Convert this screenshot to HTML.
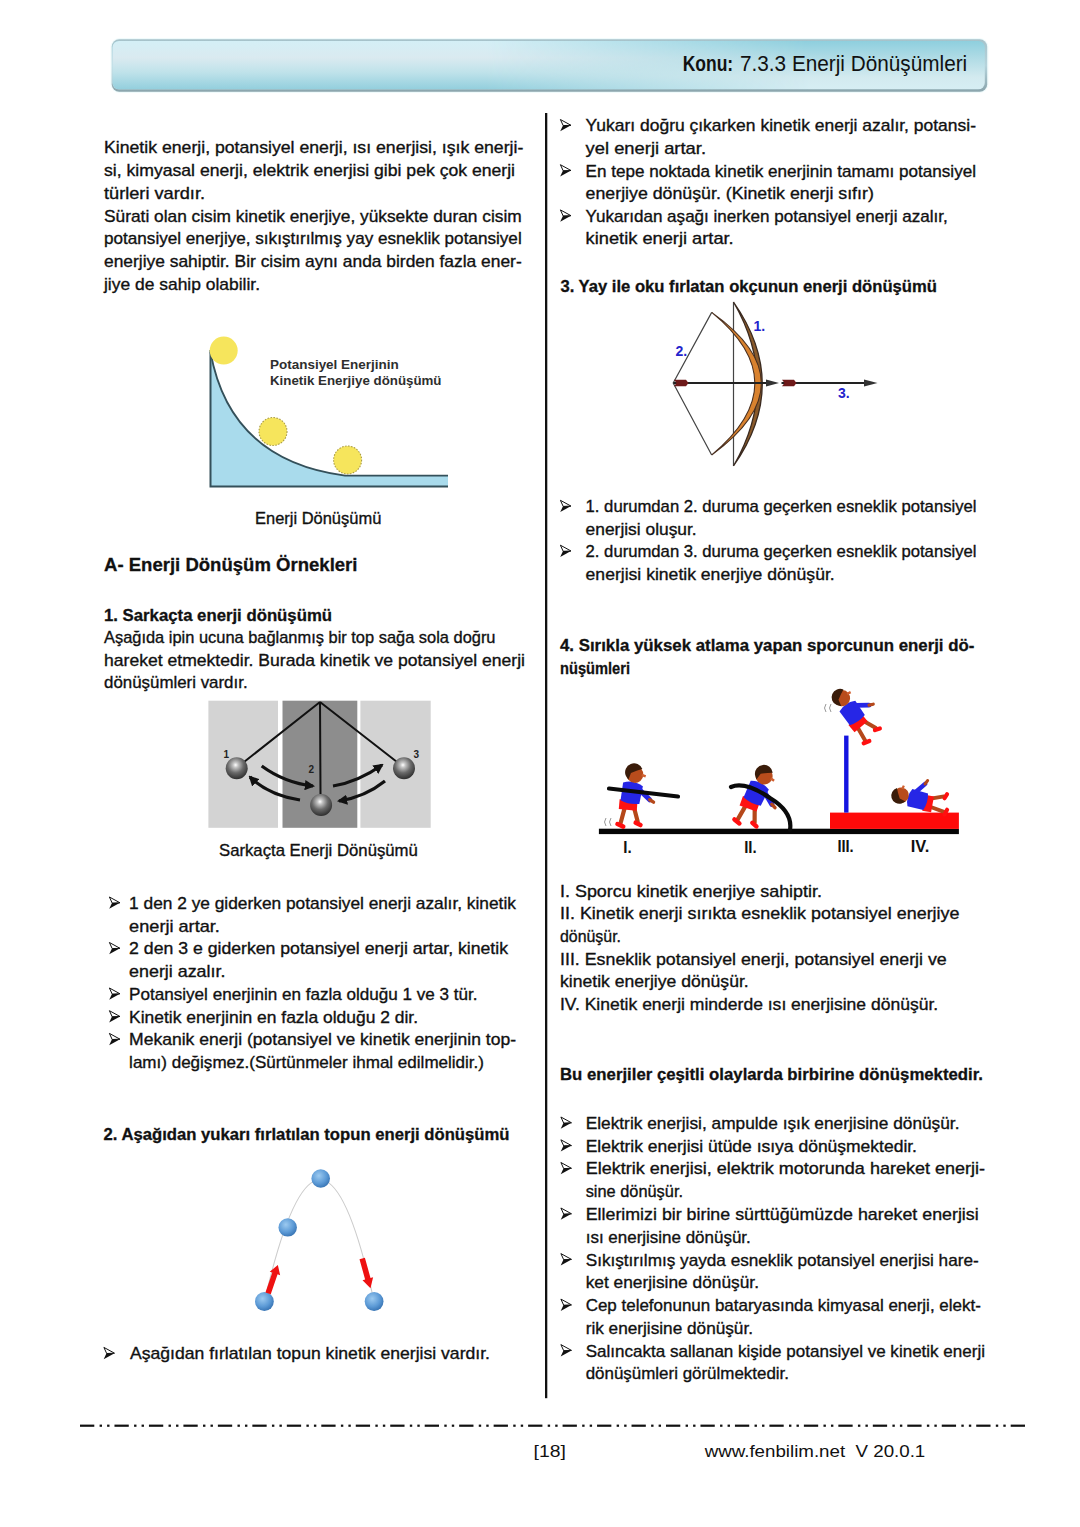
<!DOCTYPE html>
<html><head><meta charset="utf-8"><title>Enerji Dönüşümleri</title>
<style>
html,body{margin:0;padding:0;background:#fff;}
body{width:1080px;height:1527px;position:relative;overflow:hidden;font-family:"Liberation Sans",sans-serif;}
</style></head>
<body>
<svg width="1080" height="1527" viewBox="0 0 1080 1527" style="position:absolute;left:0;top:0;font-family:'Liberation Sans',sans-serif">

<defs>
 <linearGradient id="hg1" x1="0" y1="0" x2="0" y2="1">
  <stop offset="0" stop-color="#d4eff6"/>
  <stop offset="0.35" stop-color="#daeaf0"/>
  <stop offset="0.65" stop-color="#bfe2ea"/>
  <stop offset="1" stop-color="#93cfdd"/>
 </linearGradient>
 <linearGradient id="hg2" x1="0" y1="0" x2="0" y2="1">
  <stop offset="0" stop-color="#8ecfde"/>
  <stop offset="0.4" stop-color="#b4dde6"/>
  <stop offset="0.75" stop-color="#d3eaef"/>
  <stop offset="1" stop-color="#d6eef4"/>
 </linearGradient>
 <linearGradient id="hmask" x1="0" y1="0" x2="1" y2="0">
  <stop offset="0" stop-color="#fff" stop-opacity="1"/>
  <stop offset="0.45" stop-color="#fff" stop-opacity="1"/>
  <stop offset="0.75" stop-color="#fff" stop-opacity="0"/>
  <stop offset="1" stop-color="#fff" stop-opacity="0"/>
 </linearGradient>
 <linearGradient id="hbord" x1="0" y1="0" x2="0" y2="1">
  <stop offset="0" stop-color="#a6c2ca"/>
  <stop offset="0.5" stop-color="#b6d4dc"/>
  <stop offset="1" stop-color="#8aa4ac"/>
 </linearGradient>
 <mask id="hm"><rect x="0" y="0" width="1080" height="120" fill="url(#hmask)"/></mask>
</defs>
<g>
 <rect x="110.5" y="38" width="878" height="55" rx="9" fill="#e6f8fa" opacity="0.6"/>
 <rect x="111.7" y="39.2" width="875.5" height="52.5" rx="7.5" fill="url(#hbord)"/>
 <rect x="112.5" y="40.9" width="872.3" height="48.4" rx="6.5" fill="url(#hg2)"/>
 <rect x="112.5" y="40.9" width="872.3" height="48.4" rx="6.5" fill="url(#hg1)" mask="url(#hm)"/>
 <text x="682.7" y="71.4" textLength="50.5" lengthAdjust="spacingAndGlyphs" style="font-size:22px;font-weight:bold;fill:#111">Konu:</text>
 <text x="740" y="71.4" textLength="227.2" lengthAdjust="spacingAndGlyphs" style="font-size:22px;fill:#111">7.3.3 Enerji Dönüşümleri</text>
</g>
<rect x="545" y="113" width="2.3" height="1285.2" fill="#111"/>

<g>
 <path d="M210.5 352 C 220 405 250 463 345 475.6 L 448 475.6 L 448 486 L 210.5 486 Z" fill="#a9dbec"/>
 <path d="M210.5 352 C 220 405 250 463 345 475.6 L 448 475.6" fill="none" stroke="#34505a" stroke-width="1.8"/>
 <path d="M210.5 350 L 210.5 486.5 L 448 486.5" fill="none" stroke="#34505a" stroke-width="2"/>
 <circle cx="223.7" cy="350.6" r="14" fill="#f6e55c"/>
 <circle cx="273" cy="431.5" r="14" fill="#f6e55c" stroke="#a89a48" stroke-width="1.1" stroke-dasharray="1.5 1.5"/>
 <circle cx="347.6" cy="460" r="14" fill="#f6e55c" stroke="#a89a48" stroke-width="1.1" stroke-dasharray="1.5 1.5"/>
 <text x="270" y="369.3" textLength="128.7" lengthAdjust="spacingAndGlyphs" style="font-size:13px;font-weight:bold;fill:#2e2e2e">Potansiyel Enerjinin</text>
 <text x="270" y="384.8" textLength="171.5" lengthAdjust="spacingAndGlyphs" style="font-size:13px;font-weight:bold;fill:#2e2e2e">Kinetik Enerjiye dönüşümü</text>
</g>

<defs>
 <radialGradient id="pball" cx="0.45" cy="0.35" r="0.65">
  <stop offset="0" stop-color="#ffffff"/>
  <stop offset="0.18" stop-color="#c4c4c4"/>
  <stop offset="0.55" stop-color="#6a6a6a"/>
  <stop offset="1" stop-color="#2e2e2e"/>
 </radialGradient>
 <marker id="ah" viewBox="0 0 10 10" refX="8" refY="5" markerWidth="3.2" markerHeight="3.2" orient="auto">
  <path d="M0 0 L10 5 L0 10 Z" fill="#111"/>
 </marker>
</defs>
<g>
 <rect x="208.4" y="700.7" width="69.6" height="127.1" fill="#d3d3d3"/>
 <rect x="282.5" y="700.7" width="74.8" height="127.1" fill="#8d8d8d"/>
 <rect x="360.4" y="700.7" width="70.3" height="127.1" fill="#d3d3d3"/>
 <path d="M320 702 L 244 762 M320 702 L 320.5 794 M320 702 L 397 762" stroke="#111" stroke-width="2" fill="none"/>
 <path d="M261.7 766 Q 285 783 313 786" stroke="#111" stroke-width="3.2" fill="none" marker-end="url(#ah)"/>
 <path d="M300 800 Q 268 795 250 777" stroke="#111" stroke-width="3.2" fill="none" marker-end="url(#ah)"/>
 <path d="M333 786 Q 358 782 382 765" stroke="#111" stroke-width="3.2" fill="none" marker-end="url(#ah)"/>
 <path d="M385 781 Q 365 797 339 801" stroke="#111" stroke-width="3.2" fill="none" marker-end="url(#ah)"/>
 <circle cx="236.7" cy="768.3" r="11" fill="url(#pball)"/>
 <circle cx="321.1" cy="805" r="11" fill="url(#pball)"/>
 <circle cx="404" cy="768.3" r="11" fill="url(#pball)"/>
 <text x="223.5" y="757.5" style="font-size:10px;font-weight:bold;fill:#222">1</text>
 <text x="308.5" y="772.5" style="font-size:10px;font-weight:bold;fill:#222">2</text>
 <text x="413.5" y="757.5" style="font-size:10px;font-weight:bold;fill:#222">3</text>
</g>

<g>
 <path d="M733.5 302 L733.5 466" stroke="#444" stroke-width="1.2" fill="none"/>
 <path d="M711.7 312.4 L673.2 383 L711.7 455" stroke="#444" stroke-width="1.2" fill="none"/>
 <path d="M733.5 302 Q 791 384 733.5 466 Q 781 384 733.5 302 Z" fill="#8a5a2a" stroke="#3a2a20" stroke-width="1.3"/>
 <path d="M711.7 312.4 Q 811 383 711.7 455 Q 798 383 711.7 312.4 Z" fill="#d9822e" stroke="#4a3020" stroke-width="1.1"/>
 <path d="M673.5 383 L 768 383" stroke="#222" stroke-width="2" fill="none"/>
 <path d="M766 379.5 L 779 383 L 766 386.5 Z" fill="#333"/>
 <path d="M674 379.8 L 686 379.8 L 688.5 383 L 686 386.2 L 674 386.2 L 676.5 383 Z" fill="#6e1a1a"/>
 <path d="M781.5 383 L 866 383" stroke="#222" stroke-width="2" fill="none"/>
 <path d="M864 379.5 L 877.5 383 L 864 386.5 Z" fill="#333"/>
 <path d="M782 379.8 L 794 379.8 L 796.5 383 L 794 386.2 L 782 386.2 L 784.5 383 Z" fill="#6e1a1a"/>
 <text x="753.5" y="331" style="font-size:14px;font-weight:bold;fill:#2424cc">1.</text>
 <text x="675.5" y="356" style="font-size:14px;font-weight:bold;fill:#2424cc">2.</text>
 <text x="838" y="398" style="font-size:14px;font-weight:bold;fill:#2424cc">3.</text>
</g>

<defs>
 <radialGradient id="bball" cx="0.4" cy="0.35" r="0.7">
  <stop offset="0" stop-color="#9ccaf0"/>
  <stop offset="0.6" stop-color="#5c9ad6"/>
  <stop offset="1" stop-color="#3470b0"/>
 </radialGradient>
</defs>
<g>
 <path d="M264.4 1301.5 Q 320.7 1058 374.1 1301.5" stroke="#cccccc" stroke-width="1.1" fill="none"/>
 <circle cx="320.7" cy="1178.5" r="9.3" fill="url(#bball)"/>
 <circle cx="287.7" cy="1227.4" r="9.2" fill="url(#bball)"/>
 <circle cx="264.4" cy="1301.5" r="9.4" fill="url(#bball)"/>
 <circle cx="374.1" cy="1301.5" r="9.4" fill="url(#bball)"/>
 <g transform="translate(268.1 1293.3) rotate(-71)"><path d="M0 -2.8 L21 -2.8 L21 -5.5 L30 0 L21 5.5 L21 2.8 L0 2.8 Z" fill="#ee1111"/></g>
 <g transform="translate(362.2 1258.5) rotate(74.5)"><path d="M0 -2.8 L21 -2.8 L21 -5.5 L31 0 L21 5.5 L21 2.8 L0 2.8 Z" fill="#ee1111"/></g>
</g>

<g>
 <rect x="598.9" y="828.7" width="360" height="5.4" fill="#050505"/>
 <rect x="830" y="812.6" width="128.9" height="16.3" fill="#ff0a0a"/>
 <rect x="844.1" y="735.6" width="4.4" height="77" fill="#1414e0"/>
 <g transform="translate(629.0 807.0) rotate(5.0) scale(1.00)">
 <path d="M-4 0 L-7 17 M5 0 L10 14" stroke="#b5481a" stroke-width="4.2" stroke-linecap="round" fill="none"/>
 <path d="M-10 18 L-4 20 M8 15 L13 17" stroke="#ff1010" stroke-width="4.5" stroke-linecap="round"/>
 <rect x="-10" y="-7" width="18" height="10" fill="#ff1212"/>
 <path d="M-8 -24 Q 2 -28 12 -22 L 10 -4 Q 0 -2 -9 -6 Z" fill="#2626e6"/>
 <path d="M9 -18 L 20 -9" stroke="#2626e6" stroke-width="5" stroke-linecap="round"/>
 <path d="M20 -9 L 24 -7" stroke="#b5481a" stroke-width="3.5" stroke-linecap="round"/>
 <circle cx="3" cy="-33" r="8.5" fill="#b84c1c"/>
 <path d="M-6 -31 A8.5 8.5 0 0 1 10 -39 L 5 -37 L -1 -34 L -3 -27 Z" fill="#3a1c0a"/>
 <path d="M10 -33 L 14 -32" stroke="#d06030" stroke-width="2.5"/>
</g>
 <path d="M609 788.5 L 678 796.5" stroke="#0a0a0a" stroke-width="4.2" stroke-linecap="round"/>
 <g transform="translate(750.0 806.0) rotate(20.0) scale(1.00)">
 <path d="M-4 0 L-7 17 M5 0 L10 14" stroke="#b5481a" stroke-width="4.2" stroke-linecap="round" fill="none"/>
 <path d="M-10 18 L-4 20 M8 15 L13 17" stroke="#ff1010" stroke-width="4.5" stroke-linecap="round"/>
 <rect x="-10" y="-7" width="18" height="10" fill="#ff1212"/>
 <path d="M-8 -24 Q 2 -28 12 -22 L 10 -4 Q 0 -2 -9 -6 Z" fill="#2626e6"/>
 <path d="M9 -18 L 20 -9" stroke="#2626e6" stroke-width="5" stroke-linecap="round"/>
 <path d="M20 -9 L 24 -7" stroke="#b5481a" stroke-width="3.5" stroke-linecap="round"/>
 <circle cx="3" cy="-33" r="8.5" fill="#b84c1c"/>
 <path d="M-6 -31 A8.5 8.5 0 0 1 10 -39 L 5 -37 L -1 -34 L -3 -27 Z" fill="#3a1c0a"/>
 <path d="M10 -33 L 14 -32" stroke="#d06030" stroke-width="2.5"/>
</g>
 <path d="M731 787 Q 745 781 770 798 Q 793 812 790 830" stroke="#0a0a0a" stroke-width="4.2" stroke-linecap="round" fill="none"/>
 <g transform="translate(860.0 724.0) rotate(-40.0) scale(0.95)">
 <path d="M-4 0 L-7 17 M5 0 L10 14" stroke="#b5481a" stroke-width="4.2" stroke-linecap="round" fill="none"/>
 <path d="M-10 18 L-4 20 M8 15 L13 17" stroke="#ff1010" stroke-width="4.5" stroke-linecap="round"/>
 <rect x="-10" y="-7" width="18" height="10" fill="#ff1212"/>
 <path d="M-8 -24 Q 2 -28 12 -22 L 10 -4 Q 0 -2 -9 -6 Z" fill="#2626e6"/>
 <path d="M9 -18 L 20 -9" stroke="#2626e6" stroke-width="5" stroke-linecap="round"/>
 <path d="M20 -9 L 24 -7" stroke="#b5481a" stroke-width="3.5" stroke-linecap="round"/>
 <circle cx="3" cy="-33" r="8.5" fill="#b84c1c"/>
 <path d="M-6 -31 A8.5 8.5 0 0 1 10 -39 L 5 -37 L -1 -34 L -3 -27 Z" fill="#3a1c0a"/>
 <path d="M10 -33 L 14 -32" stroke="#d06030" stroke-width="2.5"/>
</g>
 <g transform="translate(930.0 803.0) rotate(-80.0) scale(0.90)">
 <path d="M-4 0 L-7 17 M5 0 L10 14" stroke="#b5481a" stroke-width="4.2" stroke-linecap="round" fill="none"/>
 <path d="M-10 18 L-4 20 M8 15 L13 17" stroke="#ff1010" stroke-width="4.5" stroke-linecap="round"/>
 <rect x="-10" y="-7" width="18" height="10" fill="#ff1212"/>
 <path d="M-8 -24 Q 2 -28 12 -22 L 10 -4 Q 0 -2 -9 -6 Z" fill="#2626e6"/>
 <path d="M9 -18 L 20 -9" stroke="#2626e6" stroke-width="5" stroke-linecap="round"/>
 <path d="M20 -9 L 24 -7" stroke="#b5481a" stroke-width="3.5" stroke-linecap="round"/>
 <circle cx="3" cy="-33" r="8.5" fill="#b84c1c"/>
 <path d="M-6 -31 A8.5 8.5 0 0 1 10 -39 L 5 -37 L -1 -34 L -3 -27 Z" fill="#3a1c0a"/>
 <path d="M10 -33 L 14 -32" stroke="#d06030" stroke-width="2.5"/>
</g>
 <path d="M606 818 Q 603 822 606 826 M611 818 Q 608 822 611 826" stroke="#999" stroke-width="1" fill="none"/>
 <path d="M826 704 Q 823 708 826 712 M831 704 Q 828 708 831 712" stroke="#999" stroke-width="1" fill="none"/>
 <text x="623.3" y="853.3" textLength="8.4" lengthAdjust="spacingAndGlyphs" style="font-size:16px;font-weight:bold;fill:#111">I.</text>
 <text x="744.2" y="853.3" textLength="12.5" lengthAdjust="spacingAndGlyphs" style="font-size:16px;font-weight:bold;fill:#111">II.</text>
 <text x="837.4" y="851.5" textLength="16.3" lengthAdjust="spacingAndGlyphs" style="font-size:16px;font-weight:bold;fill:#111">III.</text>
 <text x="910.7" y="851.5" textLength="18.6" lengthAdjust="spacingAndGlyphs" style="font-size:16px;font-weight:bold;fill:#111">IV.</text>
</g>
<g fill="#111">
<text x="104.0" y="153.3" textLength="419.3" lengthAdjust="spacingAndGlyphs" style="font-size:17px;stroke:#111;stroke-width:0.35px">Kinetik enerji, potansiyel enerji, ısı enerjisi, ışık enerji-</text>
<text x="104.0" y="176.1" textLength="411.0" lengthAdjust="spacingAndGlyphs" style="font-size:17px;stroke:#111;stroke-width:0.35px">si, kimyasal enerji, elektrik enerjisi gibi pek çok enerji</text>
<text x="104.0" y="198.8" textLength="101.0" lengthAdjust="spacingAndGlyphs" style="font-size:17px;stroke:#111;stroke-width:0.35px">türleri vardır.</text>
<text x="104.0" y="221.6" textLength="417.7" lengthAdjust="spacingAndGlyphs" style="font-size:17px;stroke:#111;stroke-width:0.35px">Sürati olan cisim kinetik enerjiye, yüksekte duran cisim</text>
<text x="104.0" y="244.3" textLength="417.7" lengthAdjust="spacingAndGlyphs" style="font-size:17px;stroke:#111;stroke-width:0.35px">potansiyel enerjiye, sıkıştırılmış yay esneklik potansiyel</text>
<text x="104.0" y="267.1" textLength="417.7" lengthAdjust="spacingAndGlyphs" style="font-size:17px;stroke:#111;stroke-width:0.35px">enerjiye sahiptir. Bir cisim aynı anda birden fazla ener-</text>
<text x="104.0" y="289.8" textLength="156.0" lengthAdjust="spacingAndGlyphs" style="font-size:17px;stroke:#111;stroke-width:0.35px">jiye de sahip olabilir.</text>
<text x="255.0" y="523.5" textLength="126.3" lengthAdjust="spacingAndGlyphs" style="font-size:17px;stroke:#111;stroke-width:0.35px">Enerji Dönüşümü</text>
<text x="104.0" y="571.3" textLength="253.5" lengthAdjust="spacingAndGlyphs" style="font-size:19px;font-weight:bold;stroke:#111;stroke-width:0.3px">A- Enerji Dönüşüm Örnekleri</text>
<text x="104.0" y="620.8" textLength="228.0" lengthAdjust="spacingAndGlyphs" style="font-size:17px;font-weight:bold;stroke:#111;stroke-width:0.3px">1. Sarkaçta enerji dönüşümü</text>
<text x="104.0" y="643.3" textLength="391.5" lengthAdjust="spacingAndGlyphs" style="font-size:17px;stroke:#111;stroke-width:0.35px">Aşağıda ipin ucuna bağlanmış bir top sağa sola doğru</text>
<text x="104.0" y="665.8" textLength="421.0" lengthAdjust="spacingAndGlyphs" style="font-size:17px;stroke:#111;stroke-width:0.35px">hareket etmektedir. Burada kinetik ve potansiyel enerji</text>
<text x="104.0" y="688.3" textLength="143.6" lengthAdjust="spacingAndGlyphs" style="font-size:17px;stroke:#111;stroke-width:0.35px">dönüşümleri vardır.</text>
<text x="219.0" y="855.6" textLength="198.8" lengthAdjust="spacingAndGlyphs" style="font-size:17px;stroke:#111;stroke-width:0.35px">Sarkaçta Enerji Dönüşümü</text>
<text x="129.1" y="908.9" textLength="386.8" lengthAdjust="spacingAndGlyphs" style="font-size:17px;stroke:#111;stroke-width:0.35px">1 den 2 ye giderken potansiyel enerji azalır, kinetik</text>
<text x="129.1" y="931.6" textLength="90.8" lengthAdjust="spacingAndGlyphs" style="font-size:17px;stroke:#111;stroke-width:0.35px">enerji artar.</text>
<text x="129.1" y="954.4" textLength="378.9" lengthAdjust="spacingAndGlyphs" style="font-size:17px;stroke:#111;stroke-width:0.35px">2 den 3 e giderken potansiyel enerji artar, kinetik</text>
<text x="129.1" y="977.1" textLength="96.3" lengthAdjust="spacingAndGlyphs" style="font-size:17px;stroke:#111;stroke-width:0.35px">enerji azalır.</text>
<text x="129.1" y="999.9" textLength="348.5" lengthAdjust="spacingAndGlyphs" style="font-size:17px;stroke:#111;stroke-width:0.35px">Potansiyel enerjinin en fazla olduğu 1 ve 3 tür.</text>
<text x="129.1" y="1022.6" textLength="288.9" lengthAdjust="spacingAndGlyphs" style="font-size:17px;stroke:#111;stroke-width:0.35px">Kinetik enerjinin en fazla olduğu 2 dir.</text>
<text x="129.1" y="1045.3" textLength="386.9" lengthAdjust="spacingAndGlyphs" style="font-size:17px;stroke:#111;stroke-width:0.35px">Mekanik enerji (potansiyel ve kinetik enerjinin top-</text>
<text x="129.1" y="1068.1" textLength="354.9" lengthAdjust="spacingAndGlyphs" style="font-size:17px;stroke:#111;stroke-width:0.35px">lamı) değişmez.(Sürtünmeler ihmal edilmelidir.)</text>
<text x="103.5" y="1140.2" textLength="406.0" lengthAdjust="spacingAndGlyphs" style="font-size:17px;font-weight:bold;stroke:#111;stroke-width:0.3px">2. Aşağıdan yukarı fırlatılan topun enerji dönüşümü</text>
<text x="129.9" y="1359.3" textLength="360.1" lengthAdjust="spacingAndGlyphs" style="font-size:17px;stroke:#111;stroke-width:0.35px">Aşağıdan fırlatılan topun kinetik enerjisi vardır.</text>
<text x="585.6" y="131.4" textLength="390.4" lengthAdjust="spacingAndGlyphs" style="font-size:17px;stroke:#111;stroke-width:0.35px">Yukarı doğru çıkarken kinetik enerji azalır, potansi-</text>
<text x="585.6" y="154.0" textLength="120.4" lengthAdjust="spacingAndGlyphs" style="font-size:17px;stroke:#111;stroke-width:0.35px">yel enerji artar.</text>
<text x="585.6" y="176.6" textLength="390.4" lengthAdjust="spacingAndGlyphs" style="font-size:17px;stroke:#111;stroke-width:0.35px">En tepe noktada kinetik enerjinin tamamı potansiyel</text>
<text x="585.6" y="199.2" textLength="288.2" lengthAdjust="spacingAndGlyphs" style="font-size:17px;stroke:#111;stroke-width:0.35px">enerjiye dönüşür. (Kinetik enerji sıfır)</text>
<text x="585.6" y="221.8" textLength="362.1" lengthAdjust="spacingAndGlyphs" style="font-size:17px;stroke:#111;stroke-width:0.35px">Yukarıdan aşağı inerken potansiyel enerji azalır,</text>
<text x="585.6" y="244.4" textLength="148.1" lengthAdjust="spacingAndGlyphs" style="font-size:17px;stroke:#111;stroke-width:0.35px">kinetik enerji artar.</text>
<text x="560.4" y="291.7" textLength="376.5" lengthAdjust="spacingAndGlyphs" style="font-size:17px;font-weight:bold;stroke:#111;stroke-width:0.3px">3. Yay ile oku fırlatan okçunun enerji dönüşümü</text>
<text x="585.6" y="512.2" textLength="390.9" lengthAdjust="spacingAndGlyphs" style="font-size:17px;stroke:#111;stroke-width:0.35px">1. durumdan 2. duruma geçerken esneklik potansiyel</text>
<text x="585.6" y="534.7" textLength="111.1" lengthAdjust="spacingAndGlyphs" style="font-size:17px;stroke:#111;stroke-width:0.35px">enerjisi oluşur.</text>
<text x="585.6" y="557.1" textLength="390.9" lengthAdjust="spacingAndGlyphs" style="font-size:17px;stroke:#111;stroke-width:0.35px">2. durumdan 3. duruma geçerken esneklik potansiyel</text>
<text x="585.6" y="579.6" textLength="249.1" lengthAdjust="spacingAndGlyphs" style="font-size:17px;stroke:#111;stroke-width:0.35px">enerjisi kinetik enerjiye dönüşür.</text>
<text x="560.0" y="650.7" textLength="414.4" lengthAdjust="spacingAndGlyphs" style="font-size:17px;font-weight:bold;stroke:#111;stroke-width:0.3px">4. Sırıkla yüksek atlama yapan sporcunun enerji dö-</text>
<text x="560.0" y="673.7" textLength="70.0" lengthAdjust="spacingAndGlyphs" style="font-size:17px;font-weight:bold;stroke:#111;stroke-width:0.3px">nüşümleri</text>
<text x="560.0" y="896.7" textLength="262.0" lengthAdjust="spacingAndGlyphs" style="font-size:17px;stroke:#111;stroke-width:0.35px">I. Sporcu kinetik enerjiye sahiptir.</text>
<text x="560.0" y="919.4" textLength="399.5" lengthAdjust="spacingAndGlyphs" style="font-size:17px;stroke:#111;stroke-width:0.35px">II. Kinetik enerji sırıkta esneklik potansiyel enerjiye</text>
<text x="560.0" y="942.0" textLength="61.0" lengthAdjust="spacingAndGlyphs" style="font-size:17px;stroke:#111;stroke-width:0.35px">dönüşür.</text>
<text x="560.0" y="964.7" textLength="386.7" lengthAdjust="spacingAndGlyphs" style="font-size:17px;stroke:#111;stroke-width:0.35px">III. Esneklik potansiyel enerji, potansiyel enerji ve</text>
<text x="560.0" y="987.3" textLength="188.7" lengthAdjust="spacingAndGlyphs" style="font-size:17px;stroke:#111;stroke-width:0.35px">kinetik enerjiye dönüşür.</text>
<text x="560.0" y="1010.0" textLength="378.2" lengthAdjust="spacingAndGlyphs" style="font-size:17px;stroke:#111;stroke-width:0.35px">IV. Kinetik enerji minderde ısı enerjisine dönüşür.</text>
<text x="560.0" y="1080.4" textLength="423.0" lengthAdjust="spacingAndGlyphs" style="font-size:17px;font-weight:bold;stroke:#111;stroke-width:0.3px">Bu enerjiler çeşitli olaylarda birbirine dönüşmektedir.</text>
<text x="585.7" y="1128.9" textLength="373.8" lengthAdjust="spacingAndGlyphs" style="font-size:17px;stroke:#111;stroke-width:0.35px">Elektrik enerjisi, ampulde ışık enerjisine dönüşür.</text>
<text x="585.7" y="1151.7" textLength="331.3" lengthAdjust="spacingAndGlyphs" style="font-size:17px;stroke:#111;stroke-width:0.35px">Elektrik enerjisi ütüde ısıya dönüşmektedir.</text>
<text x="585.7" y="1174.4" textLength="399.3" lengthAdjust="spacingAndGlyphs" style="font-size:17px;stroke:#111;stroke-width:0.35px">Elektrik enerjisi, elektrik motorunda hareket enerji-</text>
<text x="585.7" y="1197.2" textLength="97.3" lengthAdjust="spacingAndGlyphs" style="font-size:17px;stroke:#111;stroke-width:0.35px">sine dönüşür.</text>
<text x="585.7" y="1219.9" textLength="393.0" lengthAdjust="spacingAndGlyphs" style="font-size:17px;stroke:#111;stroke-width:0.35px">Ellerimizi bir birine sürttüğümüzde hareket enerjisi</text>
<text x="585.7" y="1242.7" textLength="165.1" lengthAdjust="spacingAndGlyphs" style="font-size:17px;stroke:#111;stroke-width:0.35px">ısı enerjisine dönüşür.</text>
<text x="585.7" y="1265.5" textLength="393.0" lengthAdjust="spacingAndGlyphs" style="font-size:17px;stroke:#111;stroke-width:0.35px">Sıkıştırılmış yayda esneklik potansiyel enerjisi hare-</text>
<text x="585.7" y="1288.2" textLength="173.3" lengthAdjust="spacingAndGlyphs" style="font-size:17px;stroke:#111;stroke-width:0.35px">ket enerjisine dönüşür.</text>
<text x="585.7" y="1311.0" textLength="395.1" lengthAdjust="spacingAndGlyphs" style="font-size:17px;stroke:#111;stroke-width:0.35px">Cep telefonunun bataryasında kimyasal enerji, elekt-</text>
<text x="585.7" y="1333.7" textLength="167.3" lengthAdjust="spacingAndGlyphs" style="font-size:17px;stroke:#111;stroke-width:0.35px">rik enerjisine dönüşür.</text>
<text x="585.7" y="1356.5" textLength="399.3" lengthAdjust="spacingAndGlyphs" style="font-size:17px;stroke:#111;stroke-width:0.35px">Salıncakta sallanan kişide potansiyel ve kinetik enerji</text>
<text x="585.7" y="1379.3" textLength="203.3" lengthAdjust="spacingAndGlyphs" style="font-size:17px;stroke:#111;stroke-width:0.35px">dönüşümleri görülmektedir.</text>
<text x="533.6" y="1456.5" textLength="32.3" lengthAdjust="spacingAndGlyphs" style="font-size:17px">[18]</text>
<text x="704.7" y="1456.5" textLength="220.6" lengthAdjust="spacingAndGlyphs" style="font-size:17px">www.fenbilim.net  V 20.0.1</text>
</g>
<g transform="translate(109.0 896.6)"><path d="M0.4 0.4 L11 6.2 L3.2 6.5 Z" fill="none" stroke="#111" stroke-width="1" stroke-linejoin="miter"/><path d="M3 6.3 L11 6.2 L0.2 12.2 Z" fill="#111"/></g>
<g transform="translate(109.0 942.1)"><path d="M0.4 0.4 L11 6.2 L3.2 6.5 Z" fill="none" stroke="#111" stroke-width="1" stroke-linejoin="miter"/><path d="M3 6.3 L11 6.2 L0.2 12.2 Z" fill="#111"/></g>
<g transform="translate(109.0 987.6)"><path d="M0.4 0.4 L11 6.2 L3.2 6.5 Z" fill="none" stroke="#111" stroke-width="1" stroke-linejoin="miter"/><path d="M3 6.3 L11 6.2 L0.2 12.2 Z" fill="#111"/></g>
<g transform="translate(109.0 1010.3)"><path d="M0.4 0.4 L11 6.2 L3.2 6.5 Z" fill="none" stroke="#111" stroke-width="1" stroke-linejoin="miter"/><path d="M3 6.3 L11 6.2 L0.2 12.2 Z" fill="#111"/></g>
<g transform="translate(109.0 1033.0)"><path d="M0.4 0.4 L11 6.2 L3.2 6.5 Z" fill="none" stroke="#111" stroke-width="1" stroke-linejoin="miter"/><path d="M3 6.3 L11 6.2 L0.2 12.2 Z" fill="#111"/></g>
<g transform="translate(103.5 1347.0)"><path d="M0.4 0.4 L11 6.2 L3.2 6.5 Z" fill="none" stroke="#111" stroke-width="1" stroke-linejoin="miter"/><path d="M3 6.3 L11 6.2 L0.2 12.2 Z" fill="#111"/></g>
<g transform="translate(560.0 119.1)"><path d="M0.4 0.4 L11 6.2 L3.2 6.5 Z" fill="none" stroke="#111" stroke-width="1" stroke-linejoin="miter"/><path d="M3 6.3 L11 6.2 L0.2 12.2 Z" fill="#111"/></g>
<g transform="translate(560.0 164.3)"><path d="M0.4 0.4 L11 6.2 L3.2 6.5 Z" fill="none" stroke="#111" stroke-width="1" stroke-linejoin="miter"/><path d="M3 6.3 L11 6.2 L0.2 12.2 Z" fill="#111"/></g>
<g transform="translate(560.0 209.5)"><path d="M0.4 0.4 L11 6.2 L3.2 6.5 Z" fill="none" stroke="#111" stroke-width="1" stroke-linejoin="miter"/><path d="M3 6.3 L11 6.2 L0.2 12.2 Z" fill="#111"/></g>
<g transform="translate(560.0 499.9)"><path d="M0.4 0.4 L11 6.2 L3.2 6.5 Z" fill="none" stroke="#111" stroke-width="1" stroke-linejoin="miter"/><path d="M3 6.3 L11 6.2 L0.2 12.2 Z" fill="#111"/></g>
<g transform="translate(560.0 544.8)"><path d="M0.4 0.4 L11 6.2 L3.2 6.5 Z" fill="none" stroke="#111" stroke-width="1" stroke-linejoin="miter"/><path d="M3 6.3 L11 6.2 L0.2 12.2 Z" fill="#111"/></g>
<g transform="translate(560.5 1116.6)"><path d="M0.4 0.4 L11 6.2 L3.2 6.5 Z" fill="none" stroke="#111" stroke-width="1" stroke-linejoin="miter"/><path d="M3 6.3 L11 6.2 L0.2 12.2 Z" fill="#111"/></g>
<g transform="translate(560.5 1139.4)"><path d="M0.4 0.4 L11 6.2 L3.2 6.5 Z" fill="none" stroke="#111" stroke-width="1" stroke-linejoin="miter"/><path d="M3 6.3 L11 6.2 L0.2 12.2 Z" fill="#111"/></g>
<g transform="translate(560.5 1162.1)"><path d="M0.4 0.4 L11 6.2 L3.2 6.5 Z" fill="none" stroke="#111" stroke-width="1" stroke-linejoin="miter"/><path d="M3 6.3 L11 6.2 L0.2 12.2 Z" fill="#111"/></g>
<g transform="translate(560.5 1207.6)"><path d="M0.4 0.4 L11 6.2 L3.2 6.5 Z" fill="none" stroke="#111" stroke-width="1" stroke-linejoin="miter"/><path d="M3 6.3 L11 6.2 L0.2 12.2 Z" fill="#111"/></g>
<g transform="translate(560.5 1253.2)"><path d="M0.4 0.4 L11 6.2 L3.2 6.5 Z" fill="none" stroke="#111" stroke-width="1" stroke-linejoin="miter"/><path d="M3 6.3 L11 6.2 L0.2 12.2 Z" fill="#111"/></g>
<g transform="translate(560.5 1298.7)"><path d="M0.4 0.4 L11 6.2 L3.2 6.5 Z" fill="none" stroke="#111" stroke-width="1" stroke-linejoin="miter"/><path d="M3 6.3 L11 6.2 L0.2 12.2 Z" fill="#111"/></g>
<g transform="translate(560.5 1344.2)"><path d="M0.4 0.4 L11 6.2 L3.2 6.5 Z" fill="none" stroke="#111" stroke-width="1" stroke-linejoin="miter"/><path d="M3 6.3 L11 6.2 L0.2 12.2 Z" fill="#111"/></g>
<g fill="#111"><rect x="80.00" y="1424.6" width="14.3" height="2.2"/><rect x="99.60" y="1424.6" width="2.4" height="2.2"/><rect x="107.10" y="1424.6" width="2.4" height="2.2"/><rect x="114.47" y="1424.6" width="14.3" height="2.2"/><rect x="134.07" y="1424.6" width="2.4" height="2.2"/><rect x="141.57" y="1424.6" width="2.4" height="2.2"/><rect x="148.94" y="1424.6" width="14.3" height="2.2"/><rect x="168.54" y="1424.6" width="2.4" height="2.2"/><rect x="176.04" y="1424.6" width="2.4" height="2.2"/><rect x="183.41" y="1424.6" width="14.3" height="2.2"/><rect x="203.01" y="1424.6" width="2.4" height="2.2"/><rect x="210.51" y="1424.6" width="2.4" height="2.2"/><rect x="217.88" y="1424.6" width="14.3" height="2.2"/><rect x="237.48" y="1424.6" width="2.4" height="2.2"/><rect x="244.98" y="1424.6" width="2.4" height="2.2"/><rect x="252.35" y="1424.6" width="14.3" height="2.2"/><rect x="271.95" y="1424.6" width="2.4" height="2.2"/><rect x="279.45" y="1424.6" width="2.4" height="2.2"/><rect x="286.82" y="1424.6" width="14.3" height="2.2"/><rect x="306.42" y="1424.6" width="2.4" height="2.2"/><rect x="313.92" y="1424.6" width="2.4" height="2.2"/><rect x="321.29" y="1424.6" width="14.3" height="2.2"/><rect x="340.89" y="1424.6" width="2.4" height="2.2"/><rect x="348.39" y="1424.6" width="2.4" height="2.2"/><rect x="355.76" y="1424.6" width="14.3" height="2.2"/><rect x="375.36" y="1424.6" width="2.4" height="2.2"/><rect x="382.86" y="1424.6" width="2.4" height="2.2"/><rect x="390.23" y="1424.6" width="14.3" height="2.2"/><rect x="409.83" y="1424.6" width="2.4" height="2.2"/><rect x="417.33" y="1424.6" width="2.4" height="2.2"/><rect x="424.70" y="1424.6" width="14.3" height="2.2"/><rect x="444.30" y="1424.6" width="2.4" height="2.2"/><rect x="451.80" y="1424.6" width="2.4" height="2.2"/><rect x="459.17" y="1424.6" width="14.3" height="2.2"/><rect x="478.77" y="1424.6" width="2.4" height="2.2"/><rect x="486.27" y="1424.6" width="2.4" height="2.2"/><rect x="493.64" y="1424.6" width="14.3" height="2.2"/><rect x="513.24" y="1424.6" width="2.4" height="2.2"/><rect x="520.74" y="1424.6" width="2.4" height="2.2"/><rect x="528.11" y="1424.6" width="14.3" height="2.2"/><rect x="547.71" y="1424.6" width="2.4" height="2.2"/><rect x="555.21" y="1424.6" width="2.4" height="2.2"/><rect x="562.58" y="1424.6" width="14.3" height="2.2"/><rect x="582.18" y="1424.6" width="2.4" height="2.2"/><rect x="589.68" y="1424.6" width="2.4" height="2.2"/><rect x="597.05" y="1424.6" width="14.3" height="2.2"/><rect x="616.65" y="1424.6" width="2.4" height="2.2"/><rect x="624.15" y="1424.6" width="2.4" height="2.2"/><rect x="631.52" y="1424.6" width="14.3" height="2.2"/><rect x="651.12" y="1424.6" width="2.4" height="2.2"/><rect x="658.62" y="1424.6" width="2.4" height="2.2"/><rect x="665.99" y="1424.6" width="14.3" height="2.2"/><rect x="685.59" y="1424.6" width="2.4" height="2.2"/><rect x="693.09" y="1424.6" width="2.4" height="2.2"/><rect x="700.46" y="1424.6" width="14.3" height="2.2"/><rect x="720.06" y="1424.6" width="2.4" height="2.2"/><rect x="727.56" y="1424.6" width="2.4" height="2.2"/><rect x="734.93" y="1424.6" width="14.3" height="2.2"/><rect x="754.53" y="1424.6" width="2.4" height="2.2"/><rect x="762.03" y="1424.6" width="2.4" height="2.2"/><rect x="769.40" y="1424.6" width="14.3" height="2.2"/><rect x="789.00" y="1424.6" width="2.4" height="2.2"/><rect x="796.50" y="1424.6" width="2.4" height="2.2"/><rect x="803.87" y="1424.6" width="14.3" height="2.2"/><rect x="823.47" y="1424.6" width="2.4" height="2.2"/><rect x="830.97" y="1424.6" width="2.4" height="2.2"/><rect x="838.34" y="1424.6" width="14.3" height="2.2"/><rect x="857.94" y="1424.6" width="2.4" height="2.2"/><rect x="865.44" y="1424.6" width="2.4" height="2.2"/><rect x="872.81" y="1424.6" width="14.3" height="2.2"/><rect x="892.41" y="1424.6" width="2.4" height="2.2"/><rect x="899.91" y="1424.6" width="2.4" height="2.2"/><rect x="907.28" y="1424.6" width="14.3" height="2.2"/><rect x="926.88" y="1424.6" width="2.4" height="2.2"/><rect x="934.38" y="1424.6" width="2.4" height="2.2"/><rect x="941.75" y="1424.6" width="14.3" height="2.2"/><rect x="961.35" y="1424.6" width="2.4" height="2.2"/><rect x="968.85" y="1424.6" width="2.4" height="2.2"/><rect x="976.22" y="1424.6" width="14.3" height="2.2"/><rect x="995.82" y="1424.6" width="2.4" height="2.2"/><rect x="1003.32" y="1424.6" width="2.4" height="2.2"/><rect x="1010.69" y="1424.6" width="14.3" height="2.2"/></g>
</svg>
</body></html>
